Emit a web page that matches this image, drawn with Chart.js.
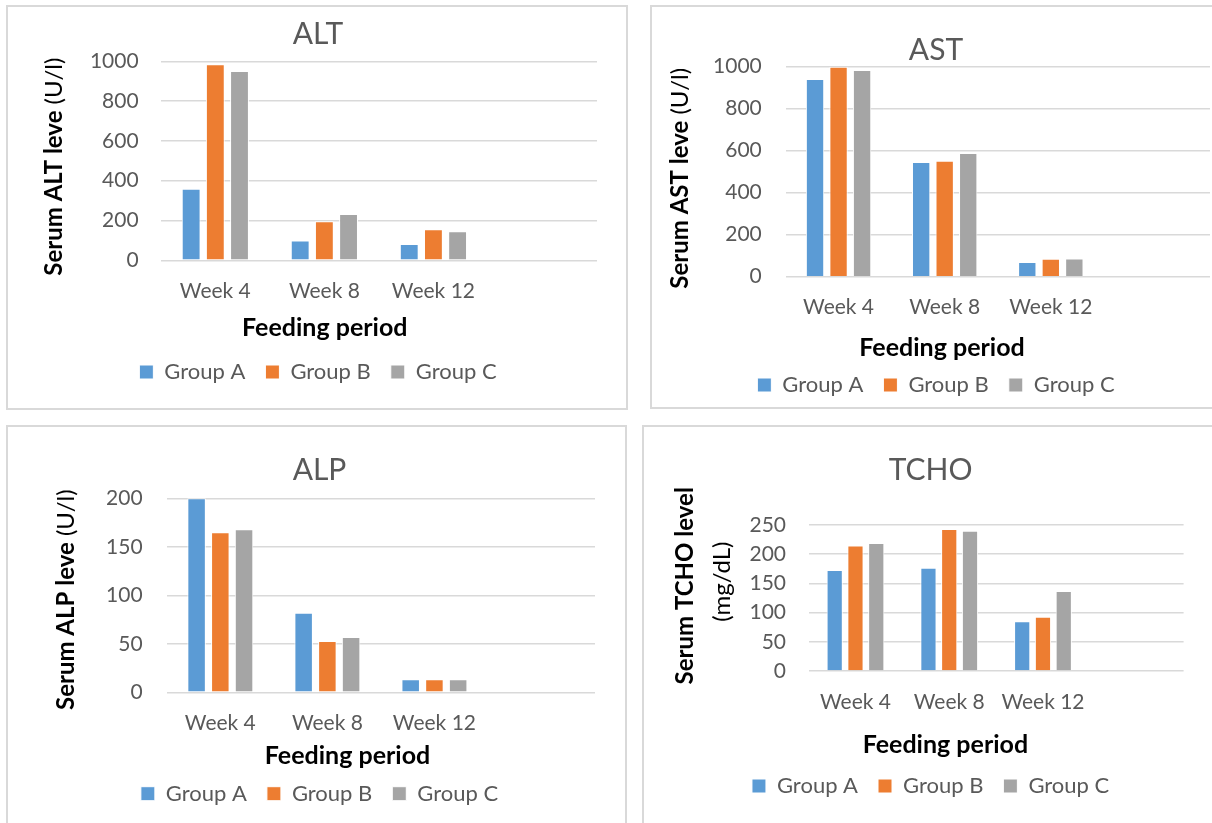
<!DOCTYPE html>
<html>
<head>
<meta charset="utf-8">
<script src="https://cdn.jsdelivr.net/npm/chart.js@4.4.1/dist/chart.umd.min.js"></script>
<style>
    html, body { margin: 0; padding: 0; background: #fff; overflow: hidden; }
    body { width: 1212px; height: 823px; position: relative; }
    .panel { position: absolute; box-sizing: border-box; border: 2px solid #d9d9d9; overflow: hidden; background: #fff; }
    .panel canvas { display: block; }
</style>
</head>
<body>
<div class="panel"><canvas id="alt-chart"></canvas></div>
<div class="panel"><canvas id="ast-chart"></canvas></div>
<div class="panel"><canvas id="alp-chart"></canvas></div>
<div class="panel"><canvas id="tcho-chart"></canvas></div>
<script>
const weeks = ['Week 4', 'Week 8', 'Week 12', '']
const groupNames = ['Group A', 'Group B', 'Group C']

const altGroupA = [360, 100, 82]
const altGroupB = [985, 196, 156]
const altGroupC = [951, 233, 146]

const astGroupA = [942, 546, 70]
const astGroupB = [1000, 552, 85]
const astGroupC = [984, 589, 87]

const alpGroupA = [200, 82, 13.5]
const alpGroupB = [165, 53, 13.5]
const alpGroupC = [168, 57, 13.5]

const tchoGroupA = [173, 177, 85]
const tchoGroupB = [215, 243, 93]
const tchoGroupC = [219, 240, 137]

const groupColors = ['#5b9bd5', '#ed7d31', '#a5a5a5']
const TICK_SIZE = 21
const TITLE_SIZE = 30
const LEGEND_SIZE = 22
const Y_TITLE_SIZE = 24
const X_TITLE_SIZE = 25
const LEGEND_PAD = 20

Chart.defaults.font.family = "Lato, 'Open Sans', sans-serif"

// y title can mix bold and regular parts, so it is drawn by hand
function axisTextPlugin(p, ox, oy) {
    return {
        id: 'axisText',
        afterDraw(chart) {
            const ctx = chart.ctx
            const fontFor = (bold, size) => `${bold ? 'bold ' : ''}${size}px Lato`
            ctx.save()
            ctx.fillStyle = '#000'
            ctx.textBaseline = 'middle'
            ctx.textAlign = 'left'
            p.yTitle.forEach(line => {
                ctx.save()
                ctx.translate(line.x - ox, line.y - oy)
                ctx.rotate(-Math.PI / 2)
                const widths = line.parts.map(([text, bold]) => {
                    ctx.font = fontFor(bold, Y_TITLE_SIZE)
                    return ctx.measureText(text).width
                })
                let x = -widths.reduce((a, b) => a + b, 0) / 2
                line.parts.forEach(([text, bold], i) => {
                    ctx.font = fontFor(bold, Y_TITLE_SIZE)
                    ctx.fillText(text, x, 0)
                    x += widths[i]
                })
                ctx.restore()
            })
            ctx.font = fontFor(true, X_TITLE_SIZE)
            ctx.textAlign = 'center'
            ctx.fillText('Feeding period', p.xTitle.x - ox, p.xTitle.y - oy)
            ctx.restore()
        }
    }
}

function setupChart(id, p) {
    const canvas = document.getElementById(id)
    const panel = canvas.parentElement
    const [bx, by, bw, bh] = p.box
    panel.style.left = bx + 'px'
    panel.style.top = by + 'px'
    panel.style.width = bw + 'px'
    panel.style.height = bh + 'px'

    const ox = bx + 2
    const oy = by + 2
    const cw = bw - 4
    const ch = bh - 4
    canvas.width = cw
    canvas.height = ch

    const plotLeft = p.plot.left - ox
    const plotRight = p.plot.right - ox
    const plotTop = p.plot.top - oy
    const plotBottom = p.plot.bottom - oy
    const padLeft = 2 * (p.centerX - ox) - plotRight
    const legendTop = p.legendY - oy - LEGEND_PAD - LEGEND_SIZE / 2
    const legendBottom = legendTop + LEGEND_SIZE + LEGEND_PAD + 10
    const titleMid = p.titleY - oy

    return new Chart(canvas, {
        type: 'bar',
        data: {
            labels: weeks,
            datasets: p.series.map((values, i) => ({
                label: groupNames[i],
                data: values,
                backgroundColor: groupColors[i],
                borderColor: '#ffffff',
                borderWidth: 1,
                categoryPercentage: 0.665,
                barPercentage: 0.78
            }))
        },
        options: {
            responsive: false,
            animation: false,
            layout: {
                padding: { left: padLeft, right: cw - plotRight, top: 0, bottom: ch - legendBottom }
            },
            scales: {
                x: {
                    grid: { display: false, drawTicks: false },
                    border: { display: false },
                    ticks: {
                        color: '#595959',
                        font: { size: TICK_SIZE },
                        padding: p.tickY - p.plot.bottom - TICK_SIZE * 0.6,
                        maxRotation: 0,
                        autoSkip: false
                    },
                    afterFit: scale => { scale.height = legendTop - plotBottom }
                },
                y: {
                    min: 0,
                    max: p.max,
                    grid: { color: '#d9d9d9', lineWidth: 1.5, drawTicks: false },
                    border: { display: false },
                    ticks: {
                        stepSize: p.step,
                        format: { useGrouping: false },
                        color: '#595959',
                        font: { size: TICK_SIZE },
                        padding: p.plot.left - p.tickRight
                    },
                    afterFit: scale => { scale.width = plotLeft - padLeft }
                }
            },
            plugins: {
                title: {
                    display: true,
                    text: p.title,
                    color: '#595959',
                    font: { size: TITLE_SIZE, weight: 'normal', lineHeight: 1 },
                    padding: { top: titleMid - TITLE_SIZE / 2, bottom: plotTop - titleMid - TITLE_SIZE / 2 }
                },
                legend: {
                    position: 'bottom',
                    labels: {
                        boxWidth: 14,
                        boxHeight: 14,
                        padding: LEGEND_PAD,
                        color: '#595959',
                        font: { size: LEGEND_SIZE }
                    }
                },
                tooltip: { enabled: false }
            }
        },
        plugins: [axisTextPlugin(p, ox, oy)]
    })
}

const charts = [
    setupChart('alt-chart', {
        box: [6, 5, 622, 405],
        plot: { left: 160.8, right: 597, top: 61.3, bottom: 260.3 },
        max: 1000, step: 200,
        title: 'ALT', titleY: 34.2, centerX: 318,
        tickY: 291.7, tickRight: 138.6, legendY: 372,
        yTitle: [{ x: 53.8, y: 166.7, parts: [['Serum ALT leve', true], [' (U/l)', false]] }],
        xTitle: { x: 324.8, y: 328.3 },
        series: [altGroupA, altGroupB, altGroupC]
    }),
    setupChart('ast-chart', {
        box: [650, 5, 590, 404],
        plot: { left: 785.5, right: 1210, top: 66.7, bottom: 276.7 },
        max: 1000, step: 200,
        title: 'AST', titleY: 50, centerX: 936,
        tickY: 307.3, tickRight: 761.8, legendY: 385,
        yTitle: [{ x: 680.5, y: 178.3, parts: [['Serum AST leve', true], [' (U/l)', false]] }],
        xTitle: { x: 942, y: 347.5 },
        series: [astGroupA, astGroupB, astGroupC]
    }),
    setupChart('alp-chart', {
        box: [6, 425, 621, 410],
        plot: { left: 166.8, right: 595, top: 498.3, bottom: 692.3 },
        max: 200, step: 50,
        title: 'ALP', titleY: 470, centerX: 319.5,
        tickY: 723.3, tickRight: 142.6, legendY: 793.7,
        yTitle: [{ x: 65.9, y: 599.7, parts: [['Serum ALP leve', true], [' (U/l)', false]] }],
        xTitle: { x: 347.5, y: 755.8 },
        series: [alpGroupA, alpGroupB, alpGroupC]
    }),
    setupChart('tcho-chart', {
        box: [642, 425, 600, 410],
        plot: { left: 808.6, right: 1183.6, top: 525, bottom: 671 },
        max: 250, step: 50,
        title: 'TCHO', titleY: 470, centerX: 930.6,
        tickY: 702.5, tickRight: 786, legendY: 786,
        yTitle: [
            { x: 685.3, y: 585.8, parts: [['Serum TCHO level', true]] },
            { x: 722.5, y: 581.7, parts: [['(mg/dL)', false]] }
        ],
        xTitle: { x: 945.4, y: 745 },
        series: [tchoGroupA, tchoGroupB, tchoGroupC]
    })
]
</script>
</body>
</html>
